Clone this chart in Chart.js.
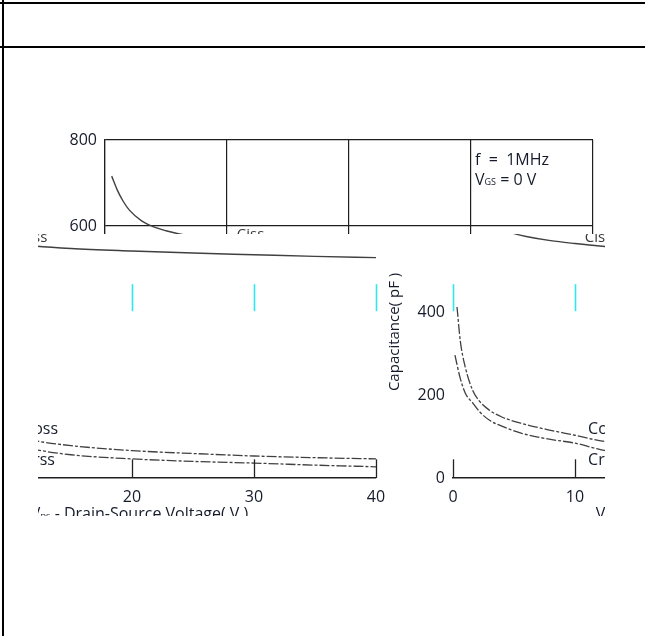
<!DOCTYPE html>
<html><head><meta charset="utf-8">
<script src="https://cdn.jsdelivr.net/npm/chart.js@4/dist/chart.umd.min.js"></script>
<style>
html,body{margin:0;padding:0;background:#fff;width:645px;height:636px;overflow:hidden;position:relative}
.clip{position:absolute;overflow:hidden}
.clip canvas{position:absolute}
.rule{position:absolute;background:#000}
</style></head><body>
<div class="rule" style="left:0;top:2px;width:645px;height:2px"></div>
<div class="rule" style="left:0;top:46px;width:645px;height:2px"></div>
<div class="rule" style="left:2px;top:0;width:2px;height:636px"></div>
<div class="clip" style="left:0;top:0;width:645px;height:234px"><canvas id="cTop" width="645" height="636" style="left:0;top:0"></canvas></div>
<div class="clip" style="left:38px;top:234px;width:350px;height:282px"><canvas id="cLeft" width="645" height="636" style="left:-255px;top:-234px"></canvas></div>
<div class="clip" style="left:388px;top:234px;width:217px;height:282px"><canvas id="cRight" width="645" height="636" style="left:-40px;top:-234px"></canvas></div>
<script>
// ---- data ----
const xTicks = [0, 10, 20, 30, 40];          // VDS (V)
const yTicks = [0, 200, 400, 600, 800];      // Capacitance (pF)
const seriesNames = ['Ciss', 'Coss', 'Crss'];
const cissV = [0.55, 1, 1.5, 2, 3, 4, 5, 6, 8, 10, 12, 15, 20, 25, 30, 35, 40];
const cissC = [716, 684, 657, 637, 612, 598, 589, 582, 572, 565, 559, 553, 547, 542, 538, 534, 531];
const cossV = [0.33, 0.6, 1, 1.6, 2.2, 3, 4, 5.7, 8, 10, 12, 15, 20, 25, 30, 35, 40];
const cossC = [412, 330, 268, 212, 184, 163, 147, 131, 115, 103, 90, 78, 66, 59, 53, 49, 46];
const crssV = [0.16, 0.57, 1, 1.64, 2.2, 3, 4, 5.7, 8, 10, 12, 15, 20, 25, 30, 35, 40];
const crssC = [296, 243, 205, 180, 159, 139, 125, 107, 93, 84, 69, 56, 46, 40, 36, 31, 27];
const noteLines = ['f  =  1MHz', ' = 0 V'];
const yTitle = 'Capacitance( pF )';
const xTitle = ' - Drain-Source Voltage( V )';

const FONT = "'Open Sans', 'DejaVu Sans', sans-serif";
const INK = '#161b2b';
const pts = (v, c) => v.map((x, i) => ({x, y: c[i]}));
const fnt = s => s + 'px ' + FONT;

function annot(kind) {
  return {
    id: 'annot' + kind,
    afterDatasetsDraw(chart) {
      const ctx = chart.ctx, xs = chart.scales.x, ys = chart.scales.y;
      ctx.save();
      ctx.textBaseline = 'middle'; ctx.textAlign = 'left';
      ctx.font = fnt(15); ctx.fillStyle = '#3a3a3a';
      ctx.fillText(seriesNames[0], xs.getPixelForValue(10.8), ys.getPixelForValue(580));
      if (kind === 'top') {
        ctx.fillStyle = INK; ctx.font = fnt(16);
        const tx = xs.getPixelForValue(30) + 4;
        ctx.fillText(noteLines[0], tx, ys.getPixelForValue(753));
        let x = tx; const yv = ys.getPixelForValue(707);
        ctx.fillText('V', x, yv); x += ctx.measureText('V').width;
        ctx.font = fnt(9); ctx.fillText('GS', x, yv + 2); x += ctx.measureText('GS').width;
        ctx.font = fnt(16); ctx.fillText(noteLines[1], x, yv);
      } else {
        ctx.fillStyle = INK; ctx.font = fnt(16);
        ctx.fillText(seriesNames[1], xs.getPixelForValue(11.07), ys.getPixelForValue(116));
        ctx.fillText(seriesNames[2], xs.getPixelForValue(11.07), ys.getPixelForValue(43));
        // grid stubs
        xTicks.forEach(t => {
          const px = Math.round(xs.getPixelForValue(t)) + 0.5;
          ctx.strokeStyle = '#222'; ctx.lineWidth = 1.3;
          ctx.beginPath(); ctx.moveTo(px, ys.getPixelForValue(0)); ctx.lineTo(px, ys.getPixelForValue(45)); ctx.stroke();
          ctx.strokeStyle = '#2ee6ee'; ctx.lineWidth = 1.6;
          ctx.beginPath(); ctx.moveTo(px, ys.getPixelForValue(402)); ctx.lineTo(px, ys.getPixelForValue(467)); ctx.stroke();
        });
        // y title
        ctx.save();
        ctx.translate(xs.left - 58, ys.getPixelForValue(352));
        ctx.rotate(-Math.PI / 2);
        ctx.textAlign = 'center'; ctx.font = fnt(15); ctx.fillStyle = INK;
        ctx.fillText(yTitle, 0, 0);
        ctx.restore();
        // x title
        ctx.font = fnt(16); ctx.fillStyle = INK;
        let x = xs.getPixelForValue(11.7); const yv = ys.bottom + 36;
        ctx.fillText('V', x, yv); x += ctx.measureText('V').width;
        ctx.font = fnt(8); ctx.fillText('DS', x, yv + 3); x += ctx.measureText('DS').width;
        ctx.font = fnt(16); ctx.fillText(xTitle, x, yv);
      }
      ctx.restore();
    }
  };
}

function makeConfig(kind) {
  const top = kind === 'top';
  const base = {pointRadius: 0, fill: false, cubicInterpolationMode: 'monotone', borderColor: '#404040'};
  const datasets = [
    Object.assign({label: seriesNames[0], data: pts(cissV, cissC), borderWidth: 1.4}, base),
    Object.assign({label: seriesNames[1], data: pts(cossV, cossC), borderWidth: 1.3, borderDash: [10, 2, 3, 2]}, base),
    Object.assign({label: seriesNames[2], data: pts(crssV, crssC), borderWidth: 1.3, borderDash: [10, 2, 3, 2]}, base)
  ];
  return {
    type: 'line',
    data: {datasets},
    options: {
      responsive: false, animation: false, devicePixelRatio: 1,
      layout: {padding: {left: 0, right: 52, top: top ? 140 : 146, bottom: 0}},
      plugins: {legend: {display: false}, tooltip: {enabled: false}},
      scales: {
        x: {
          type: 'linear', min: 0, max: 40,
          afterBuildTicks: s => { s.ticks = xTicks.map(v => ({value: v})); },
          afterFit: s => { s.height = 636 - (top ? 484 : 478); },
          grid: {display: top, color: '#1e1e1e', lineWidth: 1.2, drawTicks: false},
          border: {display: true, color: '#1e1e1e', width: top ? 1.2 : 1.6},
          ticks: {padding: 10, color: INK, font: {family: FONT, size: 16}}
        },
        y: {
          type: 'linear', min: 0, max: 800,
          afterBuildTicks: s => { s.ticks = yTicks.map(v => ({value: v})); },
          afterFit: s => { s.width = 105; },
          grid: {display: top, color: '#1e1e1e', lineWidth: 1.2, drawTicks: false},
          border: {display: top, color: '#1e1e1e', width: 1.2},
          ticks: {padding: 8, color: INK, font: {family: FONT, size: 16},
                  callback: v => (top || v <= 400) ? String(v) : ''}
        }
      }
    },
    plugins: [annot(kind)]
  };
}

new Chart(document.getElementById('cTop'), makeConfig('top'));
new Chart(document.getElementById('cLeft'), makeConfig('low'));
new Chart(document.getElementById('cRight'), makeConfig('low'));
</script>
</body></html>
